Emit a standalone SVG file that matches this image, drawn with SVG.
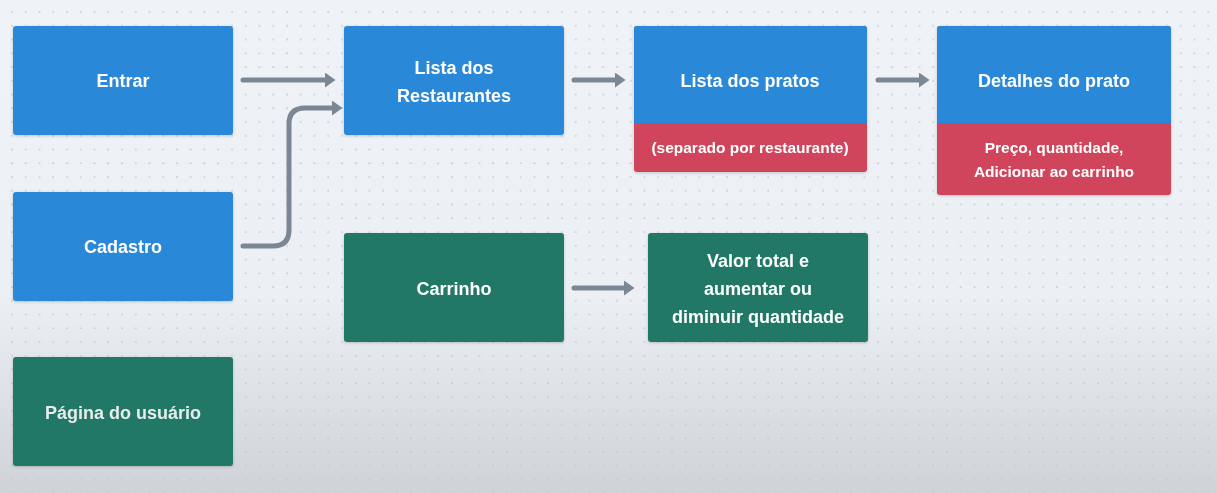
<svg xmlns="http://www.w3.org/2000/svg" width="1217" height="493" viewBox="0 0 1217 493">
<defs>
<linearGradient id="bg" x1="0" y1="0" x2="0" y2="1">
<stop offset="0" stop-color="#eff2f6"/>
<stop offset="0.6" stop-color="#eceff3"/>
<stop offset="1" stop-color="#cfd2d6"/>
</linearGradient>
<pattern id="dots" x="5" y="5" width="13.75" height="13.75" patternUnits="userSpaceOnUse">
<circle cx="7" cy="7" r="0.9" fill="#c3c8d0"/>
</pattern>
<filter id="sh" x="-5%" y="-5%" width="110%" height="115%">
<feDropShadow dx="0" dy="1" stdDeviation="1.5" flood-color="#000" flood-opacity="0.18"/>
</filter>
<marker id="ah" viewBox="0 0 10 10" refX="2" refY="5" markerWidth="3" markerHeight="3" orient="auto" markerUnits="strokeWidth">
<path d="M0,0 L7,5 L0,10 z" fill="#7b8794"/>
</marker>
<style>
.blue{fill:#2b88d8}
.red{fill:#d0445b}
.green{fill:#217866}
.t{font-family:"Liberation Sans",Arial,sans-serif;font-weight:bold;font-size:18px;fill:#fff;text-anchor:middle}
.s{font-family:"Liberation Sans",Arial,sans-serif;font-weight:bold;font-size:15.5px;fill:#fff;text-anchor:middle}
.c{fill:none;stroke:#7b8794;stroke-width:5;stroke-linecap:round;marker-end:url(#ah)}
</style>
</defs>
<rect width="1217" height="493" fill="url(#bg)"/>
<rect width="1217" height="493" fill="url(#dots)"/>

<g id="connectors">
<path class="c" d="M243,80 H328"/>
<path class="c" d="M243,246 H273 Q289,246 289,230 V124 Q289,108 305,108 H335"/>
<path class="c" d="M574,80 H618"/>
<path class="c" d="M878,80 H922"/>
<path class="c" d="M574,288 H627"/>
</g>

<g id="entrar" filter="url(#sh)">
<rect class="blue" x="13" y="26" width="220" height="109" rx="3"/>
<text class="t" x="123" y="87">Entrar</text>
</g>
<g id="cadastro" filter="url(#sh)">
<rect class="blue" x="13" y="192" width="220" height="109" rx="3"/>
<text class="t" x="123" y="253">Cadastro</text>
</g>
<g id="pagina" filter="url(#sh)">
<rect class="green" x="13" y="357" width="220" height="109" rx="3"/>
<text class="t" x="123" y="419" style="fill:#e8ecef">Página do usuário</text>
</g>
<g id="restaurantes" filter="url(#sh)">
<rect class="blue" x="344" y="26" width="220" height="109" rx="3"/>
<text class="t" x="454" y="74">Lista dos</text>
<text class="t" x="454" y="102">Restaurantes</text>
</g>
<g id="pratos" filter="url(#sh)">
<rect class="red" x="634" y="26" width="233" height="146" rx="3"/>
<path class="blue" d="M637,26 H864 Q867,26 867,29 V123 H634 V29 Q634,26 637,26 Z"/>
<text class="t" x="750" y="87">Lista dos pratos</text>
<text class="s" x="750" y="153">(separado por restaurante)</text>
</g>
<g id="detalhes" filter="url(#sh)">
<rect class="red" x="937" y="26" width="234" height="169" rx="3"/>
<path class="blue" d="M940,26 H1168 Q1171,26 1171,29 V123 H937 V29 Q937,26 940,26 Z"/>
<text class="t" x="1054" y="87">Detalhes do prato</text>
<text class="s" x="1054" y="153">Preço, quantidade,</text>
<text class="s" x="1054" y="177">Adicionar ao carrinho</text>
</g>
<g id="carrinho" filter="url(#sh)">
<rect class="green" x="344" y="233" width="220" height="109" rx="3"/>
<text class="t" x="454" y="295">Carrinho</text>
</g>
<g id="valor" filter="url(#sh)">
<rect class="green" x="648" y="233" width="220" height="109" rx="3"/>
<text class="t" x="758" y="267">Valor total e</text>
<text class="t" x="758" y="295">aumentar ou</text>
<text class="t" x="758" y="323">diminuir quantidade</text>
</g>
</svg>
